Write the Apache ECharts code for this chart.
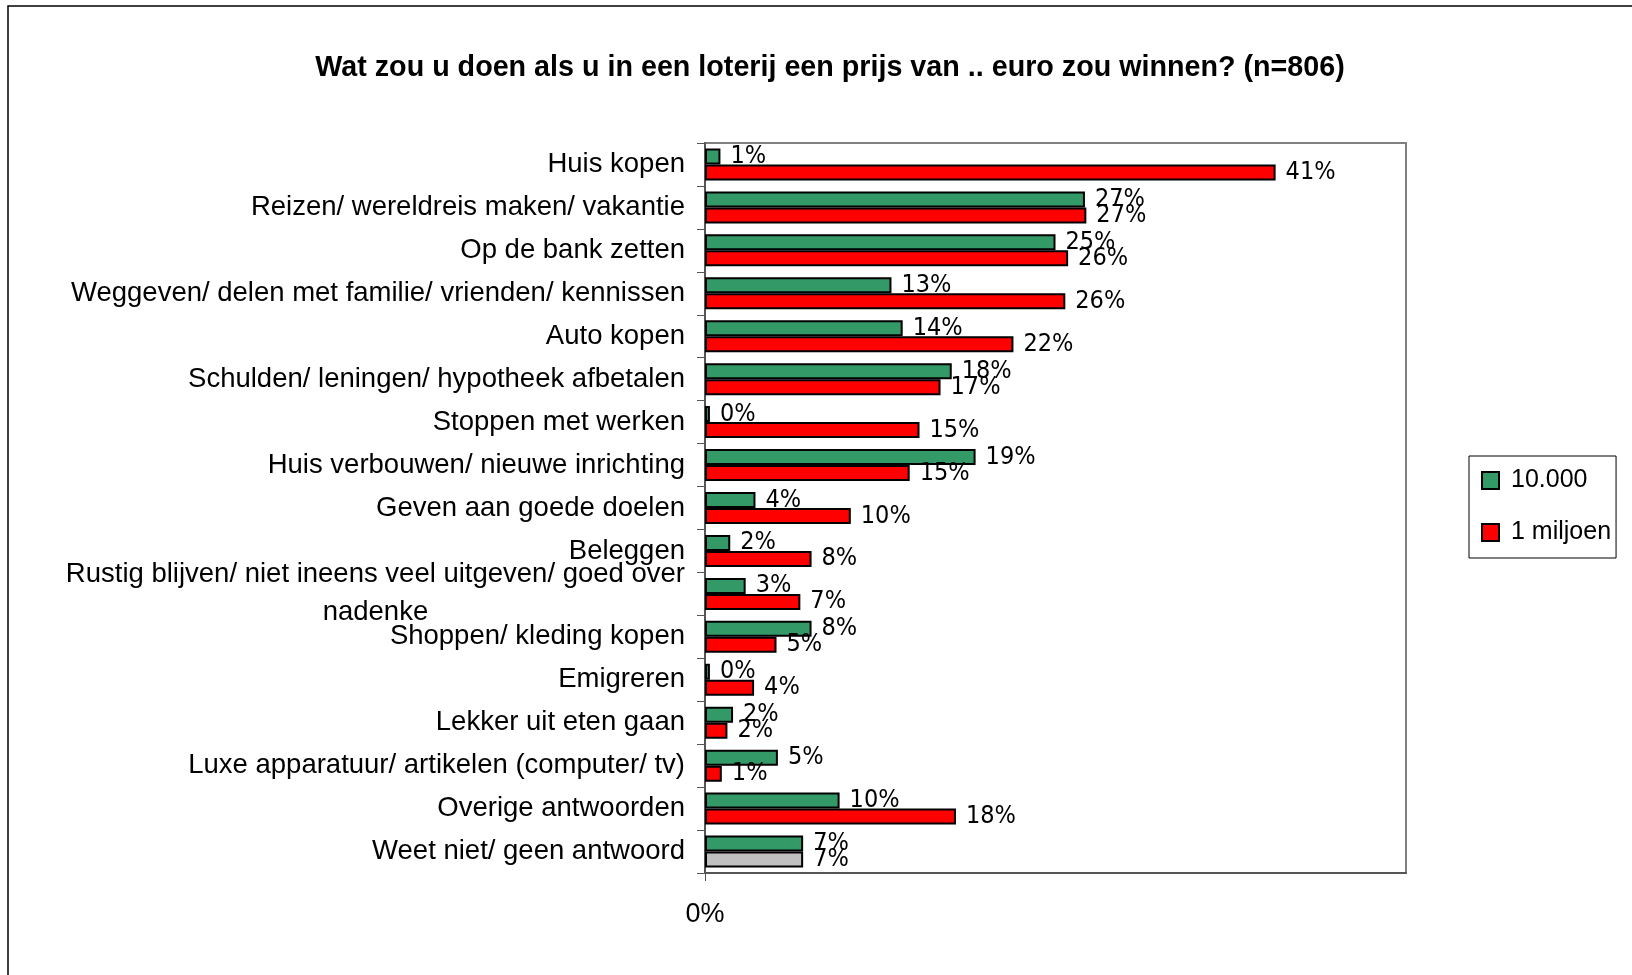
<!DOCTYPE html>
<html>
<head>
<meta charset="utf-8">
<title>Loterij</title>
<script src="https://cdn.jsdelivr.net/npm/echarts@6/dist/echarts.min.js"></script>
<style>
  html, body { margin: 0; padding: 0; background: #fff; }
  #chart { width: 1632px; height: 975px; }
</style>
</head>
<body>
<div id="chart"></div>
<script>
// categories, top to bottom
const categories = [
  'Huis kopen',
  'Reizen/ wereldreis maken/ vakantie',
  'Op de bank zetten',
  'Weggeven/ delen met familie/ vrienden/ kennissen',
  'Auto kopen',
  'Schulden/ leningen/ hypotheek afbetalen',
  'Stoppen met werken',
  'Huis verbouwen/ nieuwe inrichting',
  'Geven aan goede doelen',
  'Beleggen',
  'Rustig blijven/ niet ineens veel uitgeven/ goed over\nnadenke',
  'Shoppen/ kleding kopen',
  'Emigreren',
  'Lekker uit eten gaan',
  'Luxe apparatuur/ artikelen (computer/ tv)',
  'Overige antwoorden',
  'Weet niet/ geen antwoord',
]

// percentages
const prize10k = [1.1, 27.1, 25.0, 13.3, 14.1, 17.6, 0.35, 19.3, 3.6, 1.8, 2.9, 7.6, 0.35, 2.0, 5.2, 9.6, 7.0]
const prize1m = [40.7, 27.2, 25.9, 25.7, 22.0, 16.8, 15.3, 14.6, 10.4, 7.6, 6.8, 5.1, 3.5, 1.6, 1.2, 17.9, 7.0]

const xTicks = [0]
const seriesNames = ['10.000', '1 miljoen']

const GREEN = '#339966'
const RED = '#ff0000'
const GREY = '#c0c0c0'
const LABEL_FONT = "'DejaVu Sans Condensed', 'Liberation Sans Narrow', sans-serif"
const TEXT_FONT = "'Liberation Sans', Arial, sans-serif"

const barLabel = {
  show: true,
  position: 'right',
  distance: 10,
  fontFamily: LABEL_FONT,
  fontSize: 25,
  color: '#000',
  formatter: (p) => `${Math.round(p.value)}%`,
}

const makeSeries = (name, values, color) => ({
  name: name,
  type: 'bar',
  barWidth: 16,
  barGap: '0%',
  itemStyle: { color: color, borderColor: '#000', borderWidth: 2 },
  label: barLabel,
  data: values.map((v, i) => {
    // last answer of the second series is grey in the original
    if (color === RED && i === values.length - 1) {
      return { value: v, itemStyle: { color: GREY } }
    }
    return v
  }),
})

const chart = echarts.init(document.getElementById('chart'))

const option = {
  animation: false,
  title: {
    text: 'Wat zou u doen als u in een loterij een prijs van .. euro zou winnen? (n=806)',
    left: 825,
    textAlign: 'center',
    top: 49,
    textStyle: {
      fontFamily: TEXT_FONT,
      fontSize: 28.7,
      fontWeight: 'bold',
      color: '#000',
    },
  },
  legend: {
    orient: 'vertical',
    left: 1469,
    top: 456,
    padding: [12, 5, 13, 12],
    itemWidth: 17,
    itemHeight: 17,
    itemGap: 27,
    icon: 'rect',
    borderColor: '#000',
    borderWidth: 1,
    textStyle: { fontFamily: TEXT_FONT, fontSize: 25, color: '#000', padding: [0, 0, 0, 7] },
    data: seriesNames,
  },
  graphic: [
    {
      type: 'rect',
      shape: { x: 8, y: 6, width: 1700, height: 1100 },
      style: { fill: 'none', stroke: '#000', lineWidth: 1.5 },
      silent: true,
    },
  ],
  grid: {
    left: 705,
    right: 226,
    top: 143,
    bottom: 102,
    show: true,
    borderColor: '#808080',
    borderWidth: 2,
  },
  xAxis: {
    type: 'value',
    min: 0,
    max: 50,
    interval: 50,
    splitLine: { show: false },
    axisLine: { show: true, lineStyle: { color: '#555', width: 2 } },
    axisTick: { show: true, length: 8, customValues: xTicks, lineStyle: { color: '#555' } },
    axisLabel: {
      customValues: xTicks,
      margin: 28,
      fontFamily: TEXT_FONT,
      fontSize: 27,
      color: '#000',
      formatter: (v) => `${v}%`,
    },
  },
  yAxis: {
    type: 'category',
    inverse: true,
    data: categories,
    axisLine: { show: true, lineStyle: { color: '#555', width: 2 } },
    axisTick: { show: true, length: 8, lineStyle: { color: '#555' } },
    axisLabel: {
      interval: 0,
      margin: 20,
      fontFamily: TEXT_FONT,
      fontSize: 27.5,
      color: '#000',
      formatter: (v) => (v.indexOf('\n') >= 0 ? `{c|${v}}` : v),
      rich: {
        c: {
          align: 'center',
          fontFamily: TEXT_FONT,
          fontSize: 27.5,
          lineHeight: 38,
          color: '#000',
        },
      },
    },
  },
  series: [
    makeSeries(seriesNames[0], prize10k, GREEN),
    makeSeries(seriesNames[1], prize1m, RED),
  ],
}

chart.setOption(option)
</script>
</body>
</html>
